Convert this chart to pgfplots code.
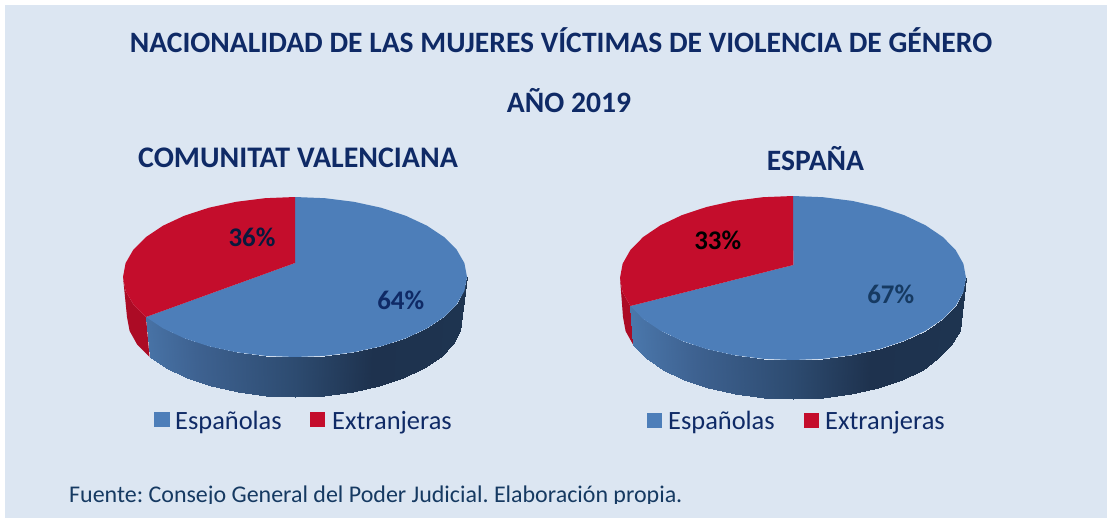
\documentclass[border=0pt]{standalone}
\usepackage{pgfplots}
\pgfplotsset{compat=1.18}
\usepackage{fontspec}
\setmainfont{Carlito}
\definecolor{bg}{HTML}{DCE6F2}
\definecolor{pblue}{HTML}{4D7EB9}
\definecolor{pred}{HTML}{C40D2C}
\definecolor{predside}{HTML}{AC0B25}
\definecolor{navy}{HTML}{0F2A66}
\definecolor{srcblue}{HTML}{163A62}
\begin{document}
\frenchspacing
\begin{tikzpicture}[
  tt/.style={anchor=base,font=\fontsize{29.7}{30}\selectfont\bfseries,text=navy,inner sep=0pt},
  lg/.style={anchor=base west,font=\fontsize{26.5}{27}\selectfont,text=navy,inner sep=0pt},
  pc/.style={anchor=base,font=\fontsize{27}{27}\selectfont\bfseries,inner sep=0pt}]
\begin{axis}[
  scale only axis, width=1107bp, height=518bp,
  xmin=0,xmax=1107,ymin=0,ymax=518,y dir=reverse,
  hide axis, clip=true,
  point meta min=-172, point meta max=172,
  colormap={side}{rgb255(0)=(76,122,175); rgb255(72)=(62,98,145); rgb255(172)=(45,75,112); rgb255(250)=(30,50,78); rgb255(344)=(30,52,80)},
]
% white page, tinted panel
\addplot[fill=white,draw=none] coordinates {(0,0)(1107,0)(1107,518)(0,518)} -- cycle;
\addplot[fill=bg,draw=none] coordinates {(5,5)(1107,5)(1107,518)(5,518)} -- cycle;
% ---- Comunitat Valenciana ----
\addplot[fill=predside,draw=none] coordinates {(146,317)(133.4,304.4)(125.6,290.9)(123,277)(127,317)(129.6,330.9)(137.1,344.4)(149.5,357)} -- cycle;
\addplot[surf,shader=interp,mesh/rows=2,point meta=\thisrow{m}] table {
x y m
467 277 172
464.4 290.9 169
456.6 304.4 162
444 317 149
426.8 328.4 132
405.6 338.3 111
381 346.3 86
353.8 352.2 59
324.9 355.8 30
295 357 0
265.1 355.8 -30
236.2 352.2 -59
209 346.3 -86
184.4 338.3 -111
163.2 328.4 -132
146 317 -149
467 277 172
460.4 330.9 169
452.9 344.4 162
440.5 357 149
423.7 368.4 132
403 378.3 111
379 386.3 86
352.5 392.2 59
324.2 395.8 30
295 397 0
265.8 395.8 -30
237.5 392.2 -59
211 386.3 -86
187 378.3 -111
166.3 368.4 -132
149.5 357 -149
};
\addplot[fill=pblue,draw=none] coordinates {(295,263)(295,197)(324.9,198.2)(353.8,201.8)(381,207.7)(405.6,215.7)(426.8,225.6)(444,237)(456.6,249.6)(464.4,263.1)(467,277)(464.4,290.9)(456.6,304.4)(444,317)(426.8,328.4)(405.6,338.3)(381,346.3)(353.8,352.2)(324.9,355.8)(295,357)(265.1,355.8)(236.2,352.2)(209,346.3)(184.4,338.3)(163.2,328.4)(146,317)} -- cycle;
\addplot[fill=pred,draw=none] coordinates {(295,263)(146,317)(133.4,304.4)(125.6,290.9)(123,277)(125.6,263.1)(133.4,249.6)(146,237)(163.2,225.6)(184.4,215.7)(209,207.7)(236.2,201.8)(265.1,198.2)(295,197)} -- cycle;
% ---- Espana ----
\addplot[fill=predside,draw=none] coordinates {(630.4,306)(622.6,292.2)(620,278)(623,317)(625.6,331.2)(633.3,345)} -- cycle;
\addplot[surf,shader=interp,mesh/rows=2,point meta=\thisrow{m}] table {
x y m
966 278 172
963.4 292.2 170
955.6 306 163
942.8 319 150
925.5 330.7 132
904.2 340.8 111
879.5 349 86
852.2 355.1 59
823 358.8 30
793 360 0
763 358.8 -30
733.8 355.1 -59
706.5 349 -86
681.8 340.8 -111
660.5 330.7 -132
643.2 319 -150
630.4 306 -163
966 278 172
959.5 331.2 170
951 345 163
938 358 150
922.5 369.7 132
902.3 379.8 111
878 388 86
851.1 394.1 59
822.5 397.8 30
793 399 0
763.5 397.8 -30
734.9 394.1 -59
708 388 -86
683.7 379.8 -111
662.8 369.7 -132
645.8 358 -150
633.3 345 -163
};
\addplot[fill=pblue,draw=none] coordinates {(793.3,265)(793,196)(823,197.2)(852.2,200.9)(879.5,207)(904.2,215.2)(925.5,225.3)(942.8,237)(955.6,250)(963.4,263.8)(966,278)(963.4,292.2)(955.6,306)(942.8,319)(925.5,330.7)(904.2,340.8)(879.5,349)(852.2,355.1)(823,358.8)(793,360)(763,358.8)(733.8,355.1)(706.5,349)(681.8,340.8)(660.5,330.7)(643.2,319)(630.4,306)} -- cycle;
\addplot[fill=pred,draw=none] coordinates {(793.3,265)(630.4,306)(622.6,292.2)(620,278)(622.6,263.8)(630.4,250)(643.2,237)(660.5,225.3)(681.8,215.2)(706.5,207)(733.8,200.9)(763,197.2)(793,196)} -- cycle;
% legend swatches
\addplot[fill=pblue,draw=none] coordinates {(154,412)(170,412)(170,427)(154,427)} -- cycle;
\addplot[fill=pred,draw=none] coordinates {(310,412)(325,412)(325,427)(310,427)} -- cycle;
\addplot[fill=pblue,draw=none] coordinates {(647,413)(662,413)(662,428)(647,428)} -- cycle;
\addplot[fill=pred,draw=none] coordinates {(804,413)(819,413)(819,428)(804,428)} -- cycle;
% texts
\node[tt] at (axis cs:561,53) {NACIONALIDAD DE LAS MUJERES VÍCTIMAS DE VIOLENCIA DE GÉNERO};
\node[tt] at (axis cs:569,112) {AÑO 2019};
\node[tt,font=\fontsize{30}{30}\selectfont\bfseries] at (axis cs:298,167) {COMUNITAT VALENCIANA};
\node[tt] at (axis cs:815.5,170) {ESPAÑA};
\node[pc,text=navy!60!black] at (axis cs:252,246) {36\%};
\node[pc,text=navy] at (axis cs:400.7,309) {64\%};
\node[pc,text=black] at (axis cs:717.7,249) {33\%};
\node[pc,text=srcblue] at (axis cs:890.7,303) {67\%};
\node[lg] at (axis cs:175,429) {Españolas};
\node[lg] at (axis cs:332,429) {Extranjeras};
\node[lg] at (axis cs:668,429) {Españolas};
\node[lg] at (axis cs:825,429) {Extranjeras};
\node[anchor=base west,inner sep=0pt,font=\fontsize{24.05}{24}\selectfont,text=srcblue] at (axis cs:69,502) {Fuente: Consejo General del Poder Judicial. Elaboración propia.};
% the source line is cut off below its baseline in the reference
\addplot[fill=bg,draw=none] coordinates {(60,504)(700,504)(700,518)(60,518)} -- cycle;
\end{axis}
\end{tikzpicture}
\end{document}
